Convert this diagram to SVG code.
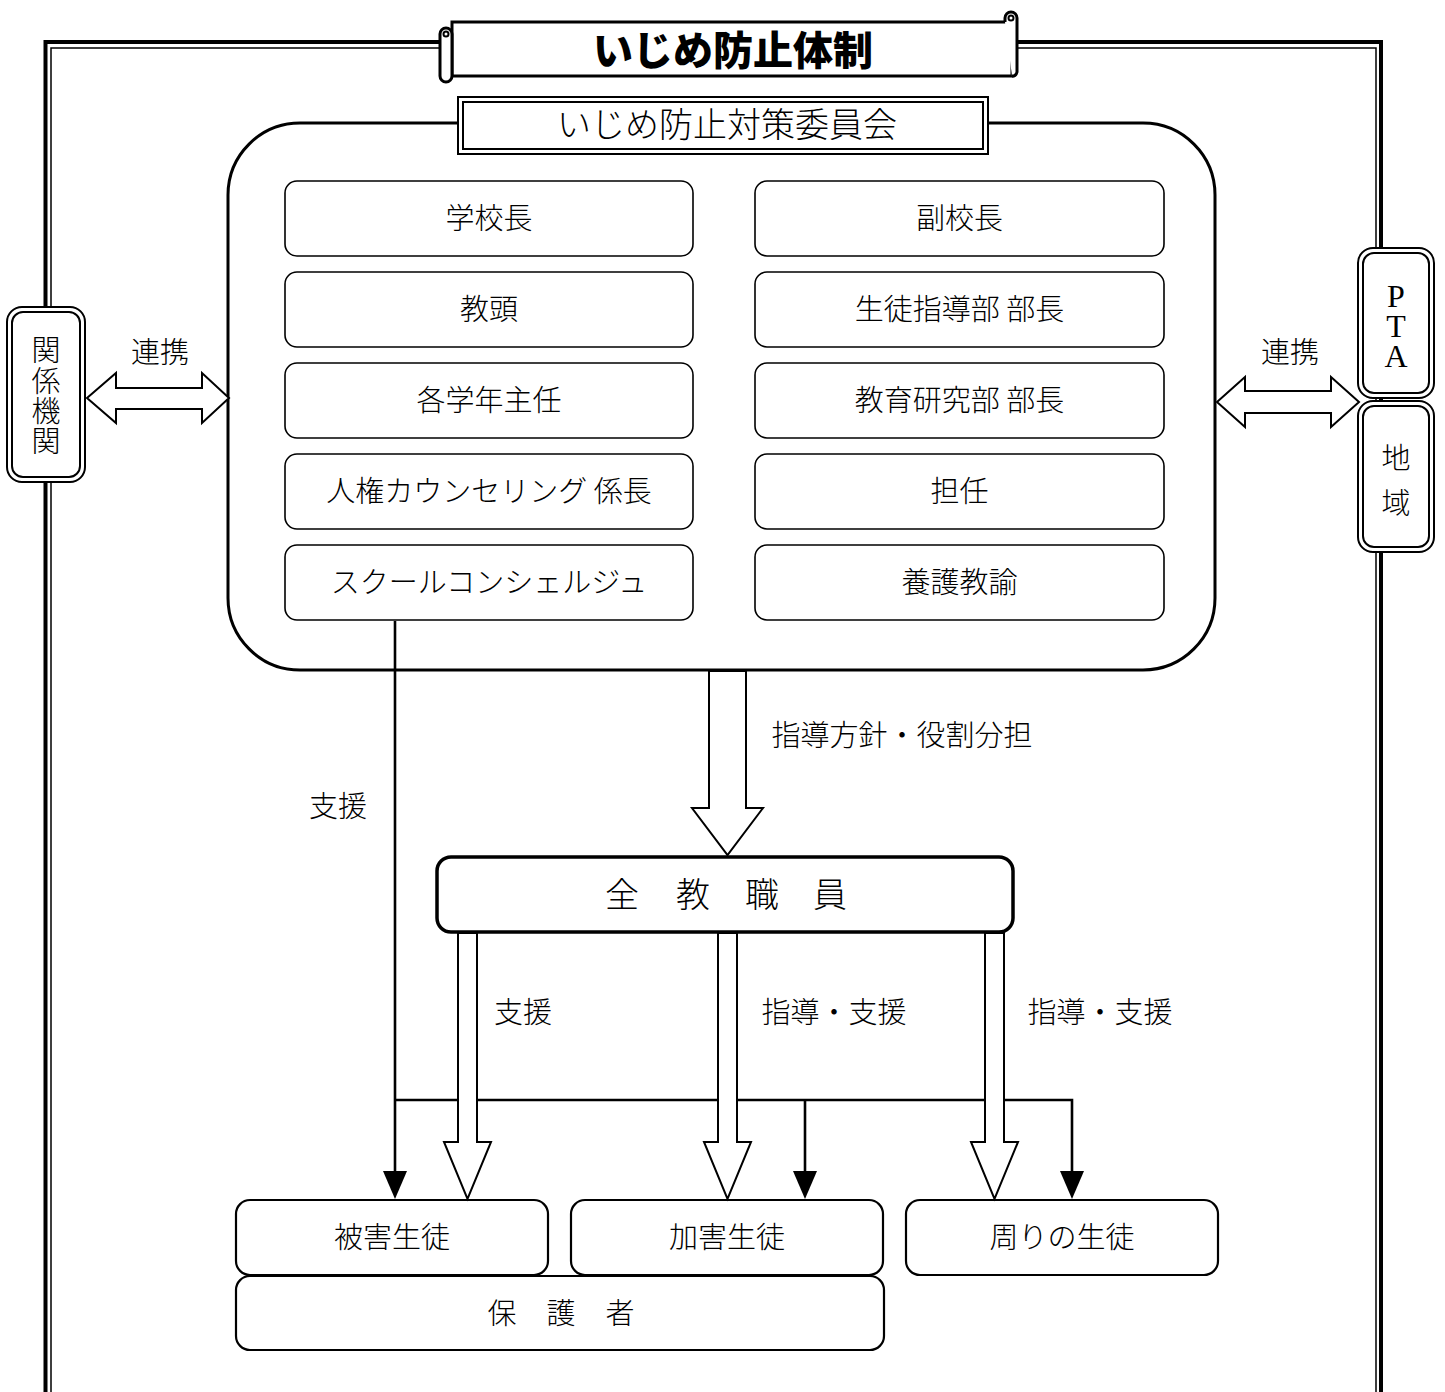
<svg xmlns="http://www.w3.org/2000/svg" width="1445" height="1392" viewBox="0 0 1445 1392">
<style>
.t{font-family:"Noto Sans CJK JP","Noto Sans CJK SC",sans-serif;font-size:29px;fill:#000;text-anchor:middle;font-weight:300}
.ser{font-family:"Liberation Serif","Noto Sans CJK JP",serif;font-size:32px;fill:#000;text-anchor:middle}
.box{fill:#fff;stroke:#000;stroke-width:1.6}
.bx2{fill:#fff;stroke:#000;stroke-width:2.2}
.hol{fill:#fff;stroke:#000;stroke-width:2;stroke-linejoin:miter}
.ln{fill:none;stroke:#000;stroke-width:2.6}
</style>
<defs>
<marker id="ah" markerUnits="userSpaceOnUse" markerWidth="30" markerHeight="26" viewBox="0 0 30 26" refX="18" refY="12" orient="auto">
<path d="M0,0 L28,12 L0,24 Z" fill="#000"/>
</marker>
</defs>
<rect width="1445" height="1392" fill="#fff"/>
<g id="frame">
<path d="M45.5,1400 V42 H1381 V1400" fill="none" stroke="#000" stroke-width="4"/>
<path d="M51,1400 V48 H1376 V1400" fill="none" stroke="#000" stroke-width="1.5"/>
</g>
<g id="title">
<path d="M452,22 H1012 V76 H452 Z" fill="#fff" stroke="#000" stroke-width="3"/>
<path d="M1005,22 V18 A6,6 0 0 1 1017,18 V72 A5,5 0 0 1 1012,76" fill="#fff" stroke="#000" stroke-width="3"/>
<circle cx="1011" cy="18" r="2.5" fill="#fff" stroke="#000" stroke-width="2"/>
<rect x="440" y="28" width="12" height="54" rx="6" fill="#fff" stroke="#000" stroke-width="3"/>
<circle cx="446" cy="34" r="2.5" fill="#fff" stroke="#000" stroke-width="2"/>
<text x="733" y="65" style="font-family:'Noto Sans CJK JP',sans-serif;font-size:40px;font-weight:900;text-anchor:middle">いじめ防止体制</text>
</g>
<g id="committee">
<rect x="228" y="123" width="987" height="547" rx="72" fill="#fff" stroke="#000" stroke-width="3"/>
</g>
<g id="committee-title">
<rect x="458" y="97" width="530" height="57" fill="#fff" stroke="#000" stroke-width="2"/>
<rect x="463" y="102" width="520" height="47" fill="none" stroke="#000" stroke-width="2"/>
<text class="t" x="727" y="137" style="font-size:34px">いじめ防止対策委員会</text>
</g>
<g id="m1"><rect class="box" x="285" y="181" width="408" height="75" rx="12"/><text class="t" x="489" y="229">学校長</text></g>
<g id="m2"><rect class="box" x="285" y="272" width="408" height="75" rx="12"/><text class="t" x="489" y="320">教頭</text></g>
<g id="m3"><rect class="box" x="285" y="363" width="408" height="75" rx="12"/><text class="t" x="489" y="411">各学年主任</text></g>
<g id="m4"><rect class="box" x="285" y="454" width="408" height="75" rx="12"/><text class="t" x="489" y="502">人権カウンセリング 係長</text></g>
<g id="m5"><rect class="box" x="285" y="545" width="408" height="75" rx="12"/><text class="t" x="489" y="593">スクールコンシェルジュ</text></g>
<g id="m6"><rect class="box" x="755" y="181" width="409" height="75" rx="12"/><text class="t" x="959.5" y="229">副校長</text></g>
<g id="m7"><rect class="box" x="755" y="272" width="409" height="75" rx="12"/><text class="t" x="959.5" y="320">生徒指導部 部長</text></g>
<g id="m8"><rect class="box" x="755" y="363" width="409" height="75" rx="12"/><text class="t" x="959.5" y="411">教育研究部 部長</text></g>
<g id="m9"><rect class="box" x="755" y="454" width="409" height="75" rx="12"/><text class="t" x="959.5" y="502">担任</text></g>
<g id="m10"><rect class="box" x="755" y="545" width="409" height="75" rx="12"/><text class="t" x="959.5" y="593">養護教諭</text></g>
<g id="kankei">
<rect x="7" y="307" width="78" height="175" rx="15" fill="#fff" stroke="#000" stroke-width="2"/>
<rect x="12" y="312" width="68" height="165" rx="11" fill="none" stroke="#000" stroke-width="2"/>
<text class="t" x="46 46 46 46" y="361 392 422 452">関係機関</text>
</g>
<g id="pta">
<rect x="1358" y="248" width="76" height="150" rx="15" fill="#fff" stroke="#000" stroke-width="2"/>
<rect x="1363" y="253" width="66" height="140" rx="11" fill="none" stroke="#000" stroke-width="2"/>
<text class="ser" x="1396 1396 1396" y="307 337 367">PTA</text>
</g>
<g id="chiiki">
<rect x="1358" y="401" width="76" height="151" rx="15" fill="#fff" stroke="#000" stroke-width="2"/>
<rect x="1363" y="406" width="66" height="141" rx="11" fill="none" stroke="#000" stroke-width="2"/>
<text class="t" x="1396 1396" y="469 514">地域</text>
</g>
<g id="staff">
<rect x="437" y="857" width="576" height="75" rx="14" fill="#fff" stroke="#000" stroke-width="3.5"/>
<text class="t" x="622 693 762 830" y="907 907 907 907" style="font-size:34px">全教職員</text>
</g>
<g id="s1"><rect class="bx2" x="236" y="1200" width="312" height="75" rx="14"/><text class="t" x="392" y="1248">被害生徒</text></g>
<g id="s2"><rect class="bx2" x="571" y="1200" width="312" height="75" rx="14"/><text class="t" x="727" y="1248">加害生徒</text></g>
<g id="s3"><rect class="bx2" x="906" y="1200" width="312" height="75" rx="14"/><text class="t" x="1062" y="1248">周りの生徒</text></g>
<g id="parents"><rect class="bx2" x="236" y="1276" width="648" height="74" rx="14"/><text class="t" x="502 561 620" y="1324 1324 1324">保護者</text></g>
<g id="connectors">
<polygon class="hol" points="87,398 116,373 116,388 202,388 202,373 229,398 202,423 202,409 116,409 116,423"/>
<polygon class="hol" points="1217,402 1245,377 1245,391 1331,391 1331,377 1359,402 1331,427 1331,413 1245,413 1245,427"/>
<path class="ln" d="M395,621 V1189" marker-end="url(#ah)"/>
<path class="ln" d="M395,1100 H1072 V1189" marker-end="url(#ah)"/>
<path class="ln" d="M805,1100 V1189" marker-end="url(#ah)"/>
<polygon class="hol" points="709,671 746,671 746,808 763,808 727.5,855 692,808 709,808"/>
<polygon class="hol" points="458,933 477,933 477,1142 491,1142 467.5,1199 444,1142 458,1142"/>
<polygon class="hol" points="718,933 737,933 737,1142 751,1142 727.5,1199 704,1142 718,1142"/>
<polygon class="hol" points="985,933 1004,933 1004,1142 1018,1142 994.5,1199 971,1142 985,1142"/>
<text class="t" x="160" y="363">連携</text>
<text class="t" x="1290" y="363">連携</text>
<text class="t" x="902" y="746">指導方針・役割分担</text>
<text class="t" x="338" y="817">支援</text>
<text class="t" x="523" y="1023">支援</text>
<text class="t" x="834" y="1023">指導・支援</text>
<text class="t" x="1100" y="1023">指導・支援</text>
</g>
</svg>
